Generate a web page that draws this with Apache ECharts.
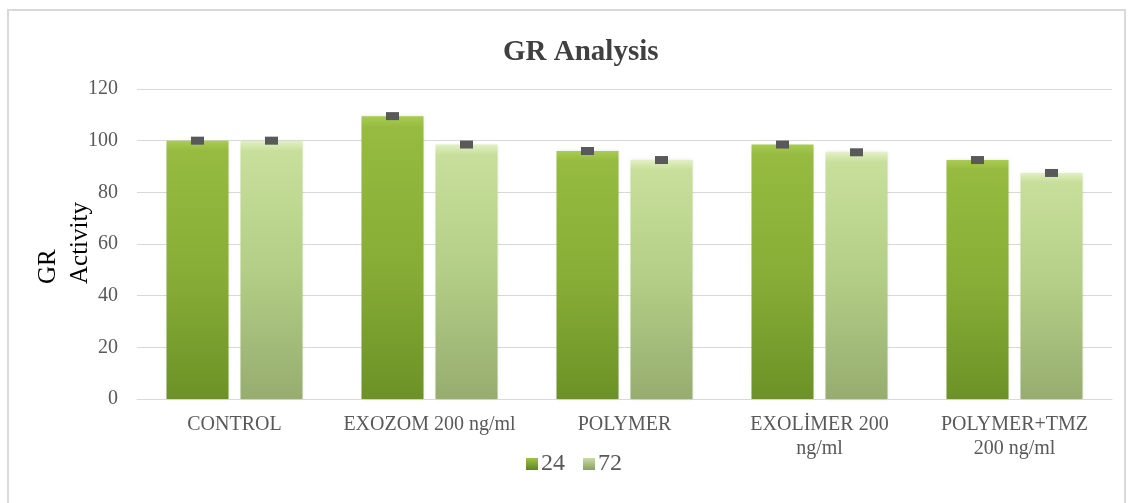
<!DOCTYPE html>
<html>
<head>
<meta charset="utf-8">
<script src="https://cdn.jsdelivr.net/npm/echarts@6/dist/echarts.min.js"></script>
<style>html,body{margin:0;padding:0;background:#fff}#c{width:1134px;height:503px}</style>
</head>
<body>
<div id="c"></div>
<script>
const categories = ['CONTROL', 'EXOZOM 200 ng/ml', 'POLYMER', 'EXOLİMER 200\nng/ml', 'POLYMER+TMZ\n200 ng/ml'];
const seriesNames = ['24', '72'];
const values24 = [100, 109.5, 96, 98.5, 92.5];
const values72 = [100, 98.5, 92.5, 95.5, 87.5];
const yTicks = { min: 0, max: 120, interval: 20 };

const FONT = '"Liberation Serif", "Times New Roman", serif';
const chart = echarts.init(document.getElementById('c'));

function grad(stops) {
  return new echarts.graphic.LinearGradient(0, 0, 0, 1, stops.map((c) => ({ offset: c[0], color: c[1] })));
}
const color24 = grad([[0, '#a9cb52'], [0.04, '#96bb40'], [0.5, '#89ae37'], [1, '#6c9227']]);
const color72 = grad([[0, '#e2f0c4'], [0.04, '#c8df9b'], [0.5, '#b3ce86'], [1, '#97ad70']]);
const legend24 = grad([[0, '#9fc245'], [1, '#5f8420']]);
const legend72 = grad([[0, '#c9dca0'], [1, '#8aa066']]);

const BAR_W = 62, GAP = 12;
const markerData = [];
values24.forEach((v, i) => markerData.push([i, v, 0]));
values72.forEach((v, i) => markerData.push([i, v, 1]));

chart.setOption({
  backgroundColor: '#fff',
  animation: false,
  title: {
    text: 'GR Analysis', left: 498, top: 33,
    textStyle: { fontFamily: FONT, fontSize: 29, fontWeight: 'bold', color: '#404040' }
  },
  legend: {
    bottom: 22, left: 521, itemWidth: 12, itemHeight: 12, itemGap: 18,
    icon: 'rect',
    textStyle: { fontFamily: FONT, fontSize: 24, color: '#595959', padding: [0, 0, 0, -2] },
    data: [
      { name: '24', itemStyle: { color: legend24 } },
      { name: '72', itemStyle: { color: legend72 } }
    ]
  },
  grid: { left: 137, right: 22, top: 89, bottom: 104 },
  xAxis: {
    type: 'category', data: categories,
    axisLine: { lineStyle: { color: '#d9d9d9', width: 1 } },
    axisTick: { show: false },
    axisLabel: { fontFamily: FONT, fontSize: 20, color: '#595959', margin: 14, lineHeight: 24, interval: 0 }
  },
  yAxis: {
    type: 'value', min: yTicks.min, max: yTicks.max, interval: yTicks.interval,
    axisLine: { show: false }, axisTick: { show: false },
    splitLine: { lineStyle: { color: '#d9d9d9', width: 1 } },
    axisLabel: { fontFamily: FONT, fontSize: 20, color: '#595959', margin: 19 }
  },
  series: [
    { name: seriesNames[0], type: 'bar', data: values24, barWidth: BAR_W, barGap: (GAP / BAR_W * 100) + '%',
      itemStyle: { color: color24, shadowBlur: 3, shadowColor: 'rgba(0,0,0,0.12)' } },
    { name: seriesNames[1], type: 'bar', data: values72, barWidth: BAR_W,
      itemStyle: { color: color72, shadowBlur: 3, shadowColor: 'rgba(0,0,0,0.12)' } },
    { type: 'custom', data: markerData, z: 5, silent: true,
      renderItem: function (params, api) {
        const p = api.coord([api.value(0), api.value(1)]);
        const off = (api.value(2) === 0 ? -1 : 1) * (BAR_W + GAP) / 2;
        return { type: 'rect', shape: { x: p[0] + off - 6.5, y: p[1] - 4, width: 13, height: 8 },
          style: { fill: '#595959' } };
      }
    }
  ],
  graphic: [
    { type: 'rect', shape: { x: 8, y: 10, width: 1117, height: 500 }, style: { fill: null, stroke: '#d9d9d9', lineWidth: 2 }, z: -1 },
    { type: 'text', x: 64, y: 284, rotation: Math.PI / 2,
      style: { text: 'GR\nActivity', font: '25px ' + FONT, fill: '#000', align: 'left', verticalAlign: 'middle', lineHeight: 32 } }
  ]
});
</script>
</body>
</html>
